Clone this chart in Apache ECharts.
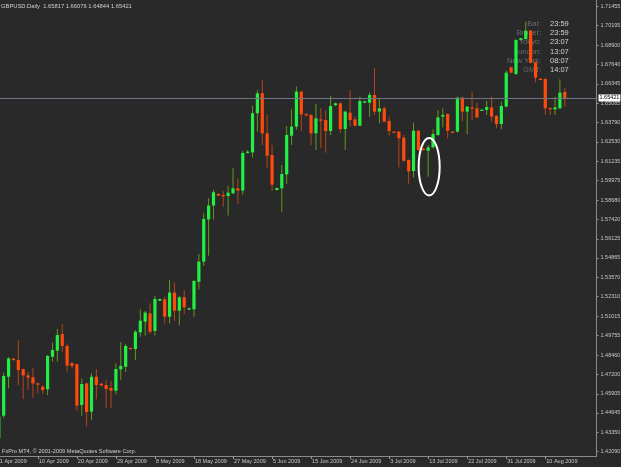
<!DOCTYPE html>
<html>
<head>
<meta charset="utf-8">
<script src="https://cdn.jsdelivr.net/npm/echarts@6/dist/echarts.min.js"></script>
<style>
  html, body { margin: 0; padding: 0; background: #292929; }
  #chart { width: 621px; height: 467px; }
</style>
</head>
<body>
<div id="chart"></div>
<script>
// GBPUSD daily bars, 1 Apr 2009 .. 14 Aug 2009 (sunday sessions included)
var opens = [
  1.4297, 1.4446, 1.4703, 1.4822, 1.4813, 1.4752, 1.4712, 1.4699, 1.4659, 1.4637,
  1.4620, 1.4835, 1.4875, 1.4985, 1.4906, 1.4794, 1.4785, 1.4517, 1.4659, 1.4473,
  1.4703, 1.4657, 1.4648, 1.4629, 1.4611, 1.4752, 1.4769, 1.4893, 1.4886, 1.4996,
  1.5066, 1.5121, 1.5005, 1.5205, 1.5214, 1.5099, 1.5258, 1.5139, 1.5227, 1.5150,
  1.5148, 1.5330, 1.5462, 1.5741, 1.5832, 1.5909, 1.5902, 1.5895, 1.5913, 1.5946,
  1.5931, 1.6181, 1.6183, 1.6441, 1.6573, 1.6309, 1.6166, 1.5935, 1.5946, 1.6038,
  1.6293, 1.6353, 1.6584, 1.6436, 1.6430, 1.6309, 1.6401, 1.6397, 1.6324, 1.6494,
  1.6507, 1.6337, 1.6445, 1.6401, 1.6359, 1.6511, 1.6511, 1.6562, 1.6452, 1.6474,
  1.6390, 1.6320, 1.6320, 1.6280, 1.6133, 1.6060, 1.6326, 1.6208, 1.6194, 1.6216,
  1.6298, 1.6419, 1.6436, 1.6320, 1.6320, 1.6544, 1.6452, 1.6480, 1.6474, 1.6461,
  1.6463, 1.6480, 1.6423, 1.6370, 1.6485, 1.6744, 1.6700, 1.6925, 1.6931, 1.6986,
  1.6777, 1.6669, 1.6667, 1.6476, 1.6467, 1.6474, 1.65817
];
var highs = [
  1.4451, 1.4730, 1.4831, 1.4827, 1.4945, 1.4758, 1.4732, 1.4763, 1.4664, 1.4648,
  1.4846, 1.4928, 1.5018, 1.5051, 1.4923, 1.4796, 1.4791, 1.4692, 1.4664, 1.4725,
  1.4754, 1.4662, 1.4681, 1.4675, 1.4791, 1.4932, 1.4919, 1.4895, 1.5011, 1.5148,
  1.5137, 1.5187, 1.5236, 1.5218, 1.5231, 1.5341, 1.5324, 1.5236, 1.5275, 1.5161,
  1.5341, 1.5513, 1.5781, 1.5880, 1.5935, 1.5911, 1.5928, 1.5961, 1.6078, 1.6012,
  1.6194, 1.6197, 1.6491, 1.6595, 1.6661, 1.6430, 1.6232, 1.5950, 1.6100, 1.6357,
  1.6467, 1.6617, 1.6590, 1.6441, 1.6434, 1.6502, 1.6474, 1.6463, 1.6555, 1.6511,
  1.6511, 1.6458, 1.6595, 1.6419, 1.6551, 1.6524, 1.6579, 1.6738, 1.6540, 1.6485,
  1.6419, 1.6322, 1.6324, 1.6298, 1.6137, 1.6379, 1.6331, 1.6212, 1.6232, 1.6335,
  1.6463, 1.6474, 1.6441, 1.6324, 1.6551, 1.6551, 1.6489, 1.6584, 1.6511, 1.6467,
  1.6522, 1.6551, 1.6430, 1.6518, 1.6722, 1.6749, 1.6929, 1.6940, 1.7045, 1.6991,
  1.6782, 1.6674, 1.6672, 1.6480, 1.6551, 1.6665, 1.66076
];
var lows = [
  1.4286, 1.4429, 1.4626, 1.4809, 1.4648, 1.4556, 1.4615, 1.4565, 1.4593, 1.4589,
  1.4582, 1.4802, 1.4802, 1.4868, 1.4736, 1.4758, 1.4479, 1.4446, 1.4374, 1.4418,
  1.4554, 1.4637, 1.4495, 1.4495, 1.4587, 1.4681, 1.4736, 1.4886, 1.4813, 1.4967,
  1.4974, 1.4985, 1.4975, 1.5203, 1.5055, 1.5055, 1.5071, 1.5040, 1.5117, 1.5143,
  1.5099, 1.5280, 1.5434, 1.5502, 1.5741, 1.5895, 1.5825, 1.5766, 1.5909, 1.5843,
  1.5904, 1.6177, 1.6150, 1.6320, 1.6232, 1.6078, 1.5928, 1.5933, 1.5790, 1.5975,
  1.6232, 1.6331, 1.6324, 1.6419, 1.6232, 1.6199, 1.6210, 1.6181, 1.6298, 1.6489,
  1.6313, 1.6199, 1.6353, 1.6353, 1.6357, 1.6507, 1.6419, 1.6430, 1.6375, 1.6381,
  1.6293, 1.6311, 1.6084, 1.6122, 1.5975, 1.6018, 1.6194, 1.6194, 1.6023, 1.6210,
  1.6291, 1.6348, 1.6276, 1.6311, 1.6313, 1.6386, 1.6304, 1.6397, 1.6408, 1.6458,
  1.6430, 1.6386, 1.6342, 1.6335, 1.6480, 1.6705, 1.6694, 1.6918, 1.6927, 1.6771,
  1.6645, 1.6660, 1.6430, 1.6430, 1.6430, 1.6467, 1.64844
];
var closes = [
  1.4440, 1.4708, 1.4824, 1.4813, 1.4747, 1.4712, 1.4697, 1.4659, 1.4651, 1.4615,
  1.4840, 1.4879, 1.4978, 1.4906, 1.4776, 1.4774, 1.4512, 1.4655, 1.4470, 1.4703,
  1.4648, 1.4646, 1.4622, 1.4611, 1.4754, 1.4774, 1.4906, 1.4888, 1.5000, 1.5073,
  1.5126, 1.5000, 1.5216, 1.5216, 1.5099, 1.5258, 1.5139, 1.5227, 1.5161, 1.5154,
  1.5335, 1.5462, 1.5744, 1.5832, 1.5920, 1.5898, 1.5893, 1.5917, 1.5946, 1.5931,
  1.6179, 1.6188, 1.6441, 1.6573, 1.6309, 1.6161, 1.5970, 1.5948, 1.6040, 1.6298,
  1.6353, 1.6584, 1.6434, 1.6428, 1.6309, 1.6408, 1.6392, 1.6324, 1.6489, 1.6507,
  1.6337, 1.6452, 1.6397, 1.6359, 1.6522, 1.6520, 1.6562, 1.6452, 1.6474, 1.6386,
  1.6324, 1.6313, 1.6276, 1.6128, 1.6058, 1.6326, 1.6199, 1.6199, 1.6216, 1.6304,
  1.6414, 1.6430, 1.6326, 1.6313, 1.6544, 1.6452, 1.6485, 1.6472, 1.6414, 1.6465,
  1.6483, 1.6419, 1.6370, 1.6489, 1.6709, 1.6709, 1.6925, 1.6936, 1.6986, 1.6775,
  1.6676, 1.6663, 1.6474, 1.6469, 1.6480, 1.6577, 1.65421
];

var priceTicks = [
  1.71455, 1.70195, 1.68900, 1.67640, 1.66345, 1.65085, 1.63790, 1.62530,
  1.61235, 1.59975, 1.58680, 1.57420, 1.56125, 1.54865, 1.53570, 1.52310,
  1.51015, 1.49755, 1.48460, 1.47200, 1.45905, 1.44645, 1.43350, 1.42090
];
var priceMin = 1.41800;
var priceMax = 1.71884;
var lastPrice = 1.65421;
var emptyBars = 6;
var dateStep = 8;

var circledBar = 88;
var circleTop = 1.6278;
var circleBottom = 1.5899;

var clockNames = ['Bar:', 'Broker:', 'Tokyo:', 'London:', 'New York:', 'GMT:'];
var clockTimes = ['23:59', '23:59', '23:07', '13:07', '08:07', '14:07'];

var titleText = 'GBPUSD.Daily  1.65817 1.66076 1.64844 1.65421';
var footText = 'FxPro MT4, \u00a9 2001-2009 MetaQuotes Software Corp.';

// build date categories, saturdays skipped
var monthNames = ['Jan', 'Feb', 'Mar', 'Apr', 'May', 'Jun', 'Jul', 'Aug', 'Sep', 'Oct', 'Nov', 'Dec'];
var days = [];
var d = new Date(Date.UTC(2009, 3, 1));
while (days.length < opens.length + emptyBars) {
  if (d.getUTCDay() !== 6) {
    days.push(d.getUTCDate() + ' ' + monthNames[d.getUTCMonth()] + ' ' + d.getUTCFullYear());
  }
  d.setUTCDate(d.getUTCDate() + 1);
}

var candles = opens.map(function (o, i) {
  return [i, o, closes[i], lows[i], highs[i]];
});

var bodyUp = '#22ef44';
var bodyDown = '#ff4a0c';
var wickUp = '#5f9a1c';
var wickDown = '#b4461c';
var fontName = '"Liberation Sans", Arial, sans-serif';

function showDate(idx) {
  return idx % dateStep === 0 && idx < opens.length;
}

function renderCandle(params, api) {
  var i = api.value(0);
  var o = api.coord([i, api.value(1)]);
  var c = api.coord([i, api.value(2)]);
  var l = api.coord([i, api.value(3)]);
  var h = api.coord([i, api.value(4)]);
  var up = api.value(2) >= api.value(1);
  var w = api.size([1, 0])[0] * 0.66;
  var top = Math.min(o[1], c[1]);
  var hgt = Math.max(Math.abs(o[1] - c[1]), 1.3);
  return {
    type: 'group',
    children: [
      {
        type: 'line',
        shape: { x1: h[0], y1: h[1], x2: l[0], y2: l[1] },
        style: { stroke: up ? wickUp : wickDown, lineWidth: 1 }
      },
      {
        type: 'rect',
        shape: { x: o[0] - w / 2, y: top, width: w, height: hgt },
        style: { fill: up ? bodyUp : bodyDown }
      }
    ]
  };
}

var dom = document.getElementById('chart');
var myChart = echarts.init(dom, null, { renderer: 'canvas' });

var option = {
  backgroundColor: '#292929',
  animation: false,
  grid: {
    left: -3.64,
    right: 24.5,
    top: 0,
    bottom: 11,
    containLabel: false,
    outerBoundsMode: 'none'
  },
  xAxis: {
    type: 'category',
    data: days,
    boundaryGap: true,
    axisLine: { show: true, lineStyle: { color: '#8a8a8a', width: 1 } },
    axisTick: { show: true, interval: showDate, alignWithLabel: true, length: 3, lineStyle: { color: '#9a9a9a' } },
    axisLabel: {
      interval: showDate,
      align: 'left',
      margin: 2,
      padding: [0, 0, 0, 1],
      color: '#c8c8c8',
      fontSize: 5.5,
      fontFamily: fontName
    },
    splitLine: { show: false }
  },
  yAxis: {
    type: 'value',
    position: 'right',
    min: priceMin,
    max: priceMax,
    scale: true,
    axisLine: { show: true, lineStyle: { color: '#8a8a8a', width: 1 } },
    axisTick: { show: true, customValues: priceTicks, length: 2, lineStyle: { color: '#9a9a9a' } },
    axisLabel: {
      customValues: priceTicks,
      formatter: function (v) { return v.toFixed(5); },
      margin: 4,
      padding: [5, 0, 0, 0],
      verticalAlign: 'middle',
      color: '#c8c8c8',
      fontSize: 5.5,
      fontFamily: fontName
    },
    splitLine: { show: false }
  },
  series: [
    {
      type: 'custom',
      renderItem: renderCandle,
      data: candles,
      encode: { x: 0, y: [1, 2, 3, 4] },
      clip: true,
      z: 3,
      markLine: {
        silent: true,
        symbol: 'none',
        precision: 5,
        lineStyle: { color: '#6e7585', width: 1, type: 'solid' },
        label: {
          position: 'end',
          distance: 2,
          formatter: function () { return lastPrice.toFixed(5); },
          backgroundColor: '#ffffff',
          color: '#000000',
          padding: [1, 1, 0, 1],
          fontSize: 5.5,
          fontFamily: fontName
        },
        data: [{ yAxis: lastPrice }]
      }
    }
  ]
};

if (option && typeof option === 'object') {
  myChart.setOption(option);
}

// text overlays and the ellipse around the circled bar
var graphics = [
  {
    type: 'text', z: 10,
    style: { text: titleText, x: 1, y: 6, fill: '#d0d0d0', fontSize: 5.8, fontFamily: fontName, verticalAlign: 'middle' }
  },
  {
    type: 'text', z: 10,
    style: { text: footText, x: 2, y: 451, fill: '#d0d0d0', fontSize: 5.6, fontFamily: fontName, verticalAlign: 'middle' }
  }
];
clockNames.forEach(function (name, k) {
  graphics.push({
    type: 'text', z: 0,
    style: { text: name, x: 541, y: 24 + k * 9.2, fill: '#6c6c6c', fontSize: 7.5, fontFamily: fontName, align: 'right', verticalAlign: 'middle' }
  });
  graphics.push({
    type: 'text', z: 0,
    style: { text: clockTimes[k], x: 550, y: 24 + k * 9.2, fill: '#d2d2d2', fontSize: 7.5, fontFamily: fontName, verticalAlign: 'middle' }
  });
});

var pTop = myChart.convertToPixel({ gridIndex: 0 }, [circledBar, circleTop]);
var pBot = myChart.convertToPixel({ gridIndex: 0 }, [circledBar, circleBottom]);
graphics.push({
  type: 'ellipse', z: 10,
  shape: { cx: pTop[0] + 1, cy: (pTop[1] + pBot[1]) / 2, rx: 10.5, ry: (pBot[1] - pTop[1]) / 2 },
  style: { fill: null, stroke: '#ffffff', lineWidth: 2 }
});

myChart.setOption({ graphic: graphics });

window.addEventListener('resize', myChart.resize);
</script>
</body>
</html>
